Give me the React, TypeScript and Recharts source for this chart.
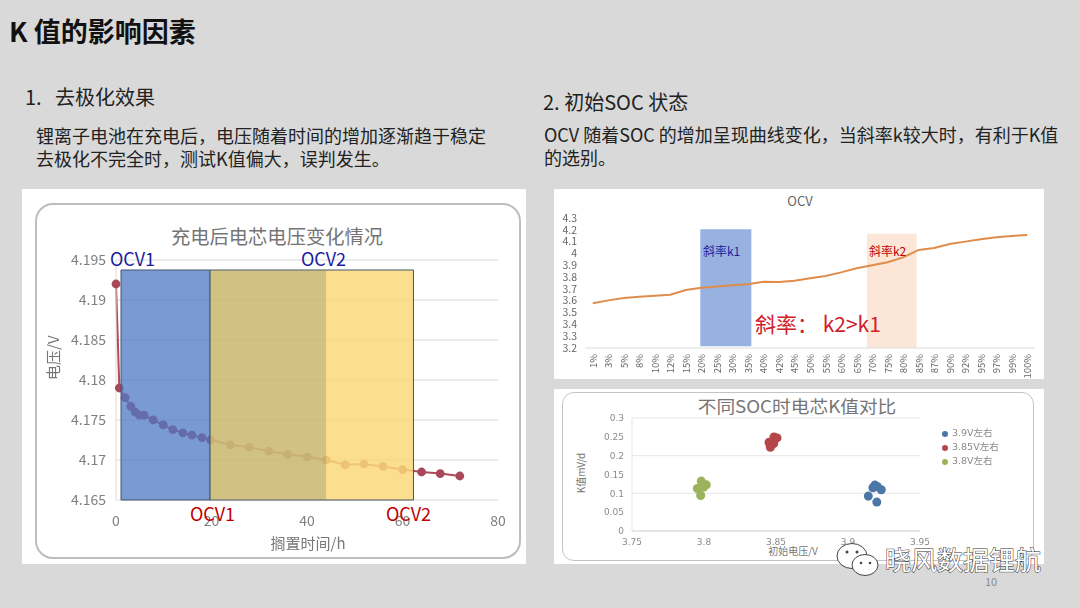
import {
  LineChart,
  Line,
  ScatterChart,
  Scatter,
  XAxis,
  YAxis,
  ZAxis,
  CartesianGrid,
  ReferenceArea,
  Legend,
} from "recharts";
import type { CSSProperties } from "react";

const FONT = '"Noto Sans CJK SC", "Noto Sans", sans-serif';
const WIDE = '"DejaVu Sans", "Noto Sans CJK SC", sans-serif';

// left chart: voltage after charging
const restHours = [0, 0.7, 1.9, 3.1, 4, 4.9, 5.9, 7.8, 9.9, 11.9, 14, 15.9, 18, 19.8, 23.9, 27.9, 32, 36, 40, 44, 48, 51.9, 55.9, 60, 64, 67.9, 72];
const restVoltage = [4.192, 4.179, 4.1778, 4.1767, 4.176, 4.1756, 4.1756, 4.175, 4.1744, 4.1738, 4.1734, 4.1731, 4.1728, 4.1725, 4.1719, 4.1716, 4.1711, 4.1707, 4.1704, 4.17, 4.1694, 4.1695, 4.1692, 4.1688, 4.1685, 4.1683, 4.168];
const voltageTicks = [4.165, 4.17, 4.175, 4.18, 4.185, 4.19, 4.195];
const hourTicks = [0, 20, 40, 60, 80];

// top right chart: OCV against SOC
const socLabels = ["1%", "3%", "5%", "8%", "10%", "12%", "15%", "20%", "25%", "30%", "35%", "40%", "42%", "45%", "50%", "55%", "60%", "65%", "70%", "75%", "80%", "85%", "87%", "90%", "92%", "95%", "97%", "99%", "100%"];
const ocvValues = [3.578, 3.603, 3.623, 3.634, 3.643, 3.651, 3.69, 3.71, 3.72, 3.73, 3.739, 3.76, 3.758, 3.77, 3.79, 3.81, 3.84, 3.874, 3.9, 3.925, 3.967, 4.03, 4.046, 4.08, 4.1, 4.12, 4.137, 4.148, 4.156];
const ocvTicks = [3.2, 3.3, 3.4, 3.5, 3.6, 3.7, 3.8, 3.9, 4, 4.1, 4.2, 4.3];

// bottom right chart: K value scatter
const blueV = [3.9141, 3.92, 3.9173, 3.9187, 3.9203, 3.9231, 3.9178];
const blueK = [0.0926, 0.0768, 0.1147, 0.1218, 0.1182, 0.1094, 0.1165];
const redV = [3.8486, 3.8507, 3.8452, 3.8484, 3.8461, 3.8458];
const redK = [0.2497, 0.2471, 0.2356, 0.2321, 0.2224, 0.2294];
const greenV = [3.7981, 3.7977, 3.7954, 3.8016, 3.7998, 3.7984];
const greenK = [0.1324, 0.0944, 0.1129, 0.1226, 0.1165, 0.1182];
const initVoltTicks = [3.75, 3.8, 3.85, 3.9, 3.95];
const kTicks = [0, 0.05, 0.1, 0.15, 0.2, 0.25, 0.3];

const restData = restHours.map((h, i) => ({ h, v: restVoltage[i] }));
const ocvData = socLabels.map((_, i) => ({ i, v: ocvValues[i] }));
const zip = (xs: number[], ys: number[]) => xs.map((x, i) => ({ x, y: ys[i] }));

const at = (left: number, top: number, style: CSSProperties = {}): CSSProperties => ({
  position: "absolute",
  left,
  top,
  whiteSpace: "nowrap",
  fontFamily: FONT,
  ...style,
});

const Txt = ({ x, y, size, color = "#222", weight = 400, children, center }: any) => (
  <div
    style={at(x, y, {
      fontSize: size,
      color,
      fontWeight: weight,
      lineHeight: 1,
      transform: center ? "translate(-50%, -50%)" : "translateY(-50%)",
    })}
  >
    {children}
  </div>
);

const SocTick = ({ x, y, payload }: any) => (
  <text
    x={x}
    y={y - 2}
    transform={`rotate(-90 ${x} ${y - 2})`}
    textAnchor="end"
    dominantBaseline="central"
    fontSize={9.5}
    fontFamily={FONT}
    fill="#666"
  >
    {socLabels[payload.value]}
  </text>
);

export default function App() {
  return (
    <div
      style={{
        position: "absolute",
        left: 0,
        top: 0,
        width: 1080,
        height: 608,
        overflow: "hidden",
        background: "#d9d9d9",
        fontFamily: FONT,
      }}
    >
      <Txt x={9} y={30} size={27} weight={700} color="#111">K 值的影响因素</Txt>
      <Txt x={25} y={97} size={20}>1.&nbsp;&nbsp;&nbsp;去极化效果</Txt>
      <Txt x={543} y={102} size={20}>2. 初始SOC 状态</Txt>
      <Txt x={36} y={135} size={18}>锂离子电池在充电后，电压随着时间的增加逐渐趋于稳定</Txt>
      <Txt x={36} y={158} size={18}>去极化不完全时，测试K值偏大，误判发生。</Txt>
      <Txt x={544} y={134} size={18}>OCV 随着SOC 的增加呈现曲线变化，当斜率k较大时，有利于K值</Txt>
      <Txt x={544} y={157} size={18}>的选别。</Txt>

      {/* left panel */}
      <div style={{ position: "absolute", left: 22, top: 189, width: 504, height: 375, background: "#fff", filter: "blur(0.5px)" }}>
        <div style={{ position: "absolute", left: 13, top: 14, width: 482, height: 352, border: "2px solid #bdbdbd", borderRadius: 18 }} />
        <div style={{ position: "absolute", left: 0, top: 0 }}>
          <LineChart
            width={504}
            height={375}
            data={restData}
            margin={{ top: 71, right: 28, bottom: 34, left: 34 }}
          >
            <CartesianGrid horizontal vertical={false} stroke="#e6e6e6" strokeWidth={1.5} />
            <XAxis
              dataKey="h"
              type="number"
              domain={[0, 80]}
              ticks={hourTicks}
              height={30}
              axisLine={false}
              tickLine={false}
              tickMargin={10}
              tick={{ fontSize: 14, fill: "#808080" }}
              label={{ value: "搁置时间/h", position: "insideBottom", offset: -19, dx: 1, fontSize: 15, fill: "#777" }}
            />
            <YAxis
              type="number"
              domain={[4.165, 4.195]}
              ticks={voltageTicks}
              width={60}
              tickMargin={4}
              axisLine={{ stroke: "#e4d5d8" }}
              tickLine={false}
              tick={{ fontSize: 14, fill: "#808080" }}
              label={{ value: "电压/V", angle: -90, position: "insideLeft", offset: -2, fontSize: 15, fill: "#777" }}
            />
            <Line
              dataKey="v"
              stroke="#b04a58"
              strokeWidth={2}
              dot={{ r: 3.4, fill: "#a8485a", stroke: "#a8485a" }}
              isAnimationActive={false}
            />
          </LineChart>
        </div>
        {/* shaded windows sit over the curve, so they get their own chart on top */}
        <div style={{ position: "absolute", left: 0, top: 0 }}>
          <LineChart width={504} height={375} data={restData} margin={{ top: 71, right: 28, bottom: 64, left: 94 }}>
            <XAxis dataKey="h" type="number" domain={[0, 80]} hide />
            <YAxis type="number" domain={[4.165, 4.195]} hide />
            <Line dataKey="v" stroke="none" dot={false} legendType="none" isAnimationActive={false} />
            <ReferenceArea x1={1.05} x2={19.7} y1={4.165} y2={4.19375} fill="#4e78c6" fillOpacity={0.75} stroke="#44546a" strokeWidth={1} />
            <ReferenceArea x1={19.7} x2={62.3} y1={4.165} y2={4.19375} fill="#fcd97a" fillOpacity={0.85} stroke="#44546a" strokeWidth={1} />
            <ReferenceArea x1={19.7} x2={44} y1={4.165} y2={4.19375} fill="#6e826c" fillOpacity={0.3} />
          </LineChart>
        </div>
      </div>
      <Txt x={277} y={237} size={19.3} color="#757575" center>充电后电芯电压变化情况</Txt>
      <Txt x={110} y={258} size={18} color="#1c1ca0">OCV1</Txt>
      <Txt x={301} y={258} size={18} color="#1c1ca0">OCV2</Txt>
      <Txt x={190} y={513} size={18} color="#c00000">OCV1</Txt>
      <Txt x={386} y={513} size={18} color="#c00000">OCV2</Txt>

      {/* top right panel */}
      <div style={{ position: "absolute", left: 554, top: 189, width: 490, height: 190, background: "#fff", filter: "blur(0.4px)" }}>
        <LineChart
          width={490}
          height={190}
          data={ocvData}
          margin={{ top: 29, right: 9, bottom: 0, left: 4 }}
        >
          <XAxis
            dataKey="i"
            type="number"
            domain={[-0.5, 28.5]}
            ticks={socLabels.map((_, i) => i)}
            interval={0}
            height={31}
            axisLine={{ stroke: "#dcdcdc" }}
            tickLine={false}
            tick={<SocTick />}
          />
          <YAxis
            type="number"
            domain={[3.2, 4.3]}
            ticks={ocvTicks}
            interval={0}
            width={27}
            axisLine={false}
            tickLine={false}
            tickMargin={2}
            tick={{ fontSize: 10.5, fill: "#666" }}
          />
          <ReferenceArea x1={6.93} x2={10.22} y1={3.214} y2={4.204} fill="#4472c4" fillOpacity={0.55} stroke="none" />
          <ReferenceArea x1={17.67} x2={20.87} y1={3.2} y2={4.167} fill="#f4b183" fillOpacity={0.32} stroke="none" />
          <Line dataKey="v" stroke="#e08c4a" strokeWidth={2} dot={false} isAnimationActive={false} />
        </LineChart>
      </div>
      <Txt x={800} y={200} size={13} color="#666" center>OCV</Txt>
      <Txt x={703} y={251} size={12} color="#1c1ca0">斜率k1</Txt>
      <Txt x={869} y={251} size={12} color="#c00000">斜率k2</Txt>
      <Txt x={755} y={323} size={21} color="#d0202a">斜率： k2&gt;k1</Txt>

      {/* bottom right panel */}
      <div style={{ position: "absolute", left: 554, top: 389, width: 490, height: 175, background: "#fff", filter: "blur(0.6px)" }}>
        <div style={{ position: "absolute", left: 8, top: 3, width: 470, height: 167, border: "1.5px solid #c4c4c4", borderRadius: 12 }} />
        <div style={{ position: "absolute", left: 0, top: 0 }}>
          <ScatterChart
            width={490}
            height={175}
            margin={{ top: 29, right: 34, bottom: 13, left: 44 }}
          >
            <CartesianGrid stroke="#e6e6e6" horizontal vertical={false} />
            <XAxis
              dataKey="x"
              type="number"
              domain={[3.75, 3.95]}
              ticks={initVoltTicks}
              tickFormatter={(v: number) => String(v)}
              height={20}
              axisLine={{ stroke: "#d8d8d8" }}
              tickLine={false}
              tick={{ fontSize: 9, fill: "#8a8a8a", fontFamily: WIDE }}
            />
            <YAxis
              dataKey="y"
              type="number"
              domain={[0, 0.3]}
              ticks={kTicks}
              width={34}
              axisLine={{ stroke: "#e6e6e6" }}
              tickLine={false}
              tick={{ fontSize: 9, fill: "#8a8a8a", fontFamily: WIDE }}
            />
            <ZAxis range={[20, 20]} />
            <Legend
              layout="vertical"
              align="right"
              verticalAlign="top"
              iconType="circle"
              iconSize={6}
              itemSorter={null}
              wrapperStyle={{ position: "absolute", left: 388, top: 37, width: 90, fontSize: 9.5, fontFamily: WIDE, lineHeight: "14px" }}
              formatter={(value: string) => <span style={{ color: "#8a8a8a" }}>{value}</span>}
            />
            <Scatter name="3.9V左右" data={zip(blueV, blueK)} fill="#4a77a8" isAnimationActive={false} />
            <Scatter name="3.85V左右" data={zip(redV, redK)} fill="#b5474a" isAnimationActive={false} />
            <Scatter name="3.8V左右" data={zip(greenV, greenK)} fill="#9bb35a" isAnimationActive={false} />
          </ScatterChart>
        </div>
      </div>
      <div style={at(797, 405, { fontSize: 17, lineHeight: 1, color: "#757575", transform: "translate(-50%, -50%) scaleX(1.1)" })}>不同SOC时电芯K值对比</div>
      <Txt x={793} y={551} size={10} color="#777" center>初始电压/V</Txt>
      <div style={at(580, 473, { fontSize: 10, color: "#777", transform: "translate(-50%, -50%) rotate(-90deg)" })}>K值mV/d</div>

      {/* watermark and page number */}
      <svg width={50} height={36} style={{ position: "absolute", left: 834, top: 541 }}>
        <ellipse cx={18} cy={15} rx={15} ry={12.5} fill="#fff" stroke="#444" strokeWidth={1} />
        <ellipse cx={31} cy={24} rx={13} ry={10.5} fill="#fff" stroke="#444" strokeWidth={1} />
        <circle cx={13} cy={11} r={1.5} fill="#444" />
        <circle cx={23} cy={11} r={1.5} fill="#444" />
        <circle cx={27} cy={22} r={1.3} fill="#444" />
        <circle cx={36} cy={22} r={1.3} fill="#444" />
      </svg>
      <div
        style={at(885, 559, {
          fontSize: 26,
          lineHeight: 1,
          color: "#fff",
          WebkitTextStroke: "1px #333",
          paintOrder: "stroke fill",
          transform: "translateY(-50%)",
        })}
      >
        晓风数据锂航
      </div>
      <Txt x={985} y={581} size={11} color="#8c8c8c">10</Txt>
    </div>
  );
}
